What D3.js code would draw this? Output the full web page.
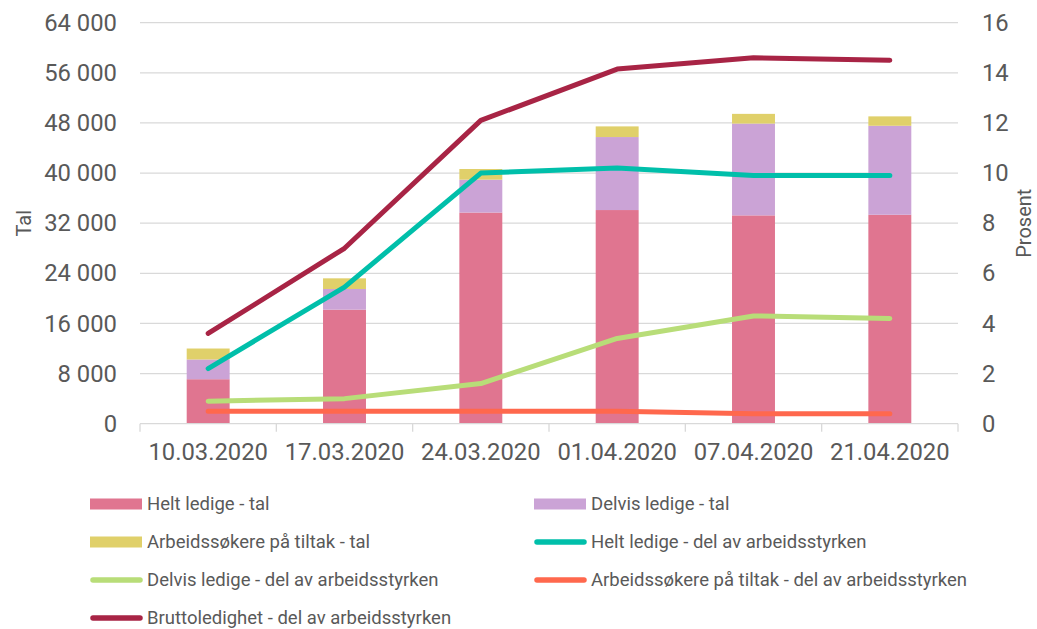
<!DOCTYPE html>
<meta charset="utf-8">
<html>
<head>
  <script src="https://d3js.org/d3.v7.min.js"></script>
  <style>
    body { margin: 0; background: #fff; }
    svg text { font-family: Roboto, "Noto Sans", sans-serif; fill: #595959; }
  </style>
</head>
<body>
  <svg></svg>
  <script type="text/javascript">
    // data
    var dates = ['10.03.2020', '17.03.2020', '24.03.2020', '01.04.2020', '07.04.2020', '21.04.2020']
    var heltTal = [7100, 18200, 33700, 34100, 33250, 33350]
    var delvisTal = [3150, 3300, 5250, 11650, 14650, 14200]
    var tiltakTal = [1750, 1700, 1700, 1700, 1550, 1500]
    var heltPst = [2.2, 5.45, 10.0, 10.2, 9.9, 9.9]
    var delvisPst = [0.9, 1.0, 1.6, 3.4, 4.3, 4.2]
    var tiltakPst = [0.5, 0.5, 0.5, 0.5, 0.4, 0.4]
    var bruttoPst = [3.6, 7.0, 12.1, 14.15, 14.6, 14.5]
    var leftTicks = [0, 8000, 16000, 24000, 32000, 40000, 48000, 56000, 64000]
    var rightTicks = [0, 2, 4, 6, 8, 10, 12, 14, 16]

    const width = 1037, height = 629
    const plotL = 140, plotR = 958, plotT = 22.7, plotB = 423.7
    const grid = '#d9d9d9'

    const svg = d3.select('svg').attr('width', width).attr('height', height)

    const fmt = d3.formatLocale({ decimal: ',', thousands: ' ', grouping: [3], currency: ['', ''] }).format(',')

    const x = d3.scaleBand().domain(dates).range([plotL, plotR]).padding(0)
    const yL = d3.scaleLinear().domain([0, 64000]).range([plotB, plotT])
    const yR = d3.scaleLinear().domain([0, 16]).range([plotB, plotT])
    const barW = x.bandwidth() * 0.315

    // gridlines
    svg.append('g').selectAll('line')
      .data(leftTicks.slice(1))
      .enter().append('line')
      .attr('x1', plotL).attr('x2', plotR)
      .attr('y1', d => yL(d)).attr('y2', d => yL(d))
      .attr('stroke', grid).attr('stroke-width', 1.3)

    // stacked bars
    var barSeries = [
      { name: 'Helt ledige - tal', values: heltTal, color: '#e07590' },
      { name: 'Delvis ledige - tal', values: delvisTal, color: '#cba3d6' },
      { name: 'Arbeidssøkere på tiltak - tal', values: tiltakTal, color: '#e0d06a' }
    ]
    var rows = dates.map((d, i) => ({ date: d, h: heltTal[i], dl: delvisTal[i], t: tiltakTal[i] }))
    var stack = d3.stack().keys(['h', 'dl', 't'])(rows)
    svg.append('g').selectAll('g')
      .data(stack)
      .enter().append('g')
      .attr('fill', (s, i) => barSeries[i].color)
      .selectAll('rect')
      .data(s => s)
      .enter().append('rect')
      .attr('x', d => x(d.data.date) + x.bandwidth() / 2 - barW / 2)
      .attr('width', barW)
      .attr('y', d => yL(d[1]))
      .attr('height', d => yL(d[0]) - yL(d[1]))

    // x baseline + tick marks
    svg.append('line')
      .attr('x1', plotL).attr('x2', plotR).attr('y1', plotB).attr('y2', plotB)
      .attr('stroke', grid).attr('stroke-width', 1.3)
    svg.append('g').selectAll('line')
      .data(dates.concat(['end']))
      .enter().append('line')
      .attr('x1', (d, i) => i < dates.length ? x(d) : plotR)
      .attr('x2', (d, i) => i < dates.length ? x(d) : plotR)
      .attr('y1', plotB).attr('y2', plotB + 8)
      .attr('stroke', grid).attr('stroke-width', 1.3)

    // lines
    var lineSeries = [
      { name: 'Helt ledige - del av arbeidsstyrken', values: heltPst, color: '#00bfaa' },
      { name: 'Delvis ledige - del av arbeidsstyrken', values: delvisPst, color: '#b8dd78' },
      { name: 'Arbeidssøkere på tiltak - del av arbeidsstyrken', values: tiltakPst, color: '#ff684d' },
      { name: 'Bruttoledighet - del av arbeidsstyrken', values: bruttoPst, color: '#a82445' }
    ]
    const line = d3.line()
      .x((d, i) => x(dates[i]) + x.bandwidth() / 2)
      .y(d => yR(d))
    svg.append('g').selectAll('path')
      .data(lineSeries.slice().reverse())
      .enter().append('path')
      .attr('d', s => line(s.values))
      .attr('fill', 'none')
      .attr('stroke', s => s.color)
      .attr('stroke-width', 5)
      .attr('stroke-linecap', 'round')
      .attr('stroke-linejoin', 'round')

    // axes
    const axL = svg.append('g').attr('transform', `translate(${plotL},0)`)
      .call(d3.axisLeft(yL).tickValues(leftTicks).tickFormat(fmt).tickSize(0).tickPadding(23))
    const axR = svg.append('g').attr('transform', `translate(${plotR},0)`)
      .call(d3.axisRight(yR).tickValues(rightTicks).tickSize(0).tickPadding(24))
    const axB = svg.append('g').attr('transform', `translate(0,${plotB})`)
      .call(d3.axisBottom(x).tickSize(0).tickPadding(19))
    ;[axL, axR, axB].forEach(a => {
      a.select('.domain').remove()
      a.selectAll('text').style('font-size', '23.8px').attr('fill', '#595959')
    })

    // axis titles
    svg.append('text')
      .attr('transform', `translate(31,${(plotT + plotB) / 2}) rotate(-90)`)
      .attr('text-anchor', 'middle')
      .style('font-size', '20px')
      .text('Tal')
    svg.append('text')
      .attr('transform', `translate(1031,${(plotT + plotB) / 2}) rotate(-90)`)
      .attr('text-anchor', 'middle')
      .style('font-size', '20px')
      .text('Prosent')

    // legend
    var legendItems = [
      { s: barSeries[0], type: 'bar' }, { s: barSeries[1], type: 'bar' },
      { s: barSeries[2], type: 'bar' }, { s: lineSeries[0], type: 'line' },
      { s: lineSeries[1], type: 'line' }, { s: lineSeries[2], type: 'line' },
      { s: lineSeries[3], type: 'line' }
    ]
    const colX = [90, 534]
    const rowY = [504, 542, 580, 618]
    const leg = svg.append('g').selectAll('g')
      .data(legendItems)
      .enter().append('g')
      .attr('transform', (d, i) => `translate(${colX[i % 2]},${rowY[Math.floor(i / 2)]})`)
    leg.filter(d => d.type === 'bar').append('rect')
      .attr('x', 0).attr('y', -5.5).attr('width', 52).attr('height', 11)
      .attr('fill', d => d.s.color)
    leg.filter(d => d.type === 'line').append('line')
      .attr('x1', 3).attr('x2', 50).attr('y1', 0).attr('y2', 0)
      .attr('stroke', d => d.s.color).attr('stroke-width', 5.5)
      .attr('stroke-linecap', 'round')
    leg.append('text')
      .attr('x', 57).attr('y', 0).attr('dy', '0.35em')
      .style('font-size', '18.5px')
      .text(d => d.s.name)
  </script>
</body>
</html>
